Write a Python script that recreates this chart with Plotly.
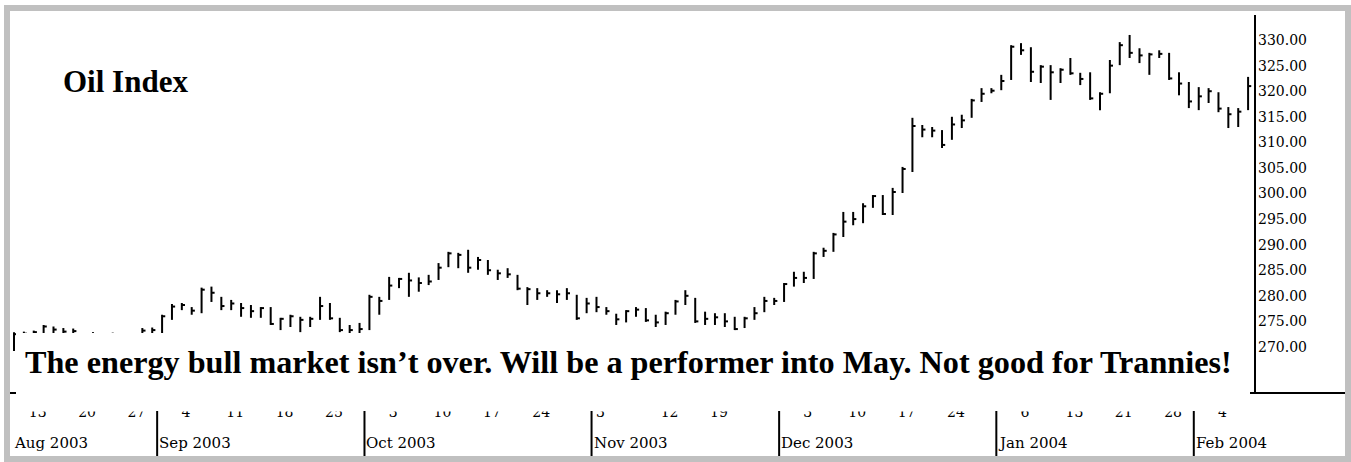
import pandas as pd
import plotly.graph_objects as go

# ---------------- data ----------------
holidays = ["2003-09-01", "2003-11-27", "2003-12-25", "2004-01-01", "2004-01-19"]
dates = [d for d in pd.bdate_range("2003-08-11", "2004-02-09")
         if d.strftime("%Y-%m-%d") not in holidays]

high = [272.9, 273.0, 273.2, 274.3, 274.0, 273.7, 273.6, 272.4, 272.9, 272.2,
        272.8, 272.3, 272.4, 273.7, 273.8, 276.3, 278.4, 278.6, 277.8, 281.6,
        281.8, 279.8, 279.2, 278.6, 278.2, 277.8, 277.8, 275.7, 276.3, 275.9,
        275.9, 279.8, 278.6, 275.7, 274.3, 274.7, 280.2, 279.8, 283.7, 283.5,
        284.5, 283.6, 284.1, 286.4, 288.6, 288.4, 289.0, 287.6, 287.0, 285.1,
        285.4, 284.1, 281.7, 281.5, 281.1, 281.1, 281.5, 280.2, 279.6, 279.8,
        277.8, 276.5, 277.2, 277.8, 277.6, 276.3, 276.9, 279.2, 281.1, 279.6,
        276.9, 276.6, 276.6, 275.9, 275.9, 277.8, 279.8, 279.6, 282.5, 284.7,
        284.7, 288.6, 289.4, 292.3, 296.4, 296.4, 298.1, 299.7, 299.7, 301.1,
        305.2, 314.8, 313.4, 313.0, 312.4, 315.0, 315.4, 318.5, 320.6, 320.6,
        323.2, 329.0, 329.4, 328.6, 325.1, 325.1, 324.5, 326.5, 323.6, 323.7,
        319.8, 326.1, 329.6, 331.0, 328.4, 327.5, 328.0, 327.5, 323.7, 321.8,
        320.8, 320.6, 319.8, 316.9, 316.7, 322.8]
low = [269.2, 270.5, 270.8, 271.5, 271.6, 271.3, 271.0, 269.8, 270.0, 268.9,
       269.3, 269.6, 270.2, 271.3, 271.8, 272.2, 275.3, 277.2, 276.3, 276.6,
       278.8, 277.2, 277.2, 275.9, 275.7, 275.7, 274.3, 273.3, 273.9, 272.9,
       273.9, 275.3, 275.3, 272.9, 272.0, 272.2, 273.3, 276.3, 279.2, 281.5,
       279.8, 280.8, 282.1, 283.1, 285.6, 285.4, 284.5, 285.1, 284.1, 283.1,
       283.5, 281.1, 278.2, 279.2, 279.8, 278.6, 279.2, 275.3, 276.6, 276.8,
       276.3, 274.3, 274.8, 275.9, 274.9, 273.9, 274.3, 276.3, 278.2, 274.7,
       274.3, 274.3, 273.9, 273.3, 273.7, 275.3, 276.8, 278.2, 278.8, 281.8,
       282.5, 283.3, 287.6, 288.6, 291.5, 293.8, 294.2, 297.2, 295.8, 295.8,
       300.1, 304.2, 311.0, 311.0, 308.9, 310.5, 312.8, 314.8, 317.9, 319.6,
       320.2, 322.2, 327.1, 321.8, 321.6, 318.3, 321.6, 323.2, 321.2, 318.3,
       316.3, 319.6, 325.1, 326.5, 325.5, 323.2, 326.5, 322.2, 319.2, 316.7,
       316.3, 317.7, 315.9, 312.8, 313.0, 316.3]
close = [272.5, 272.6, 272.9, 274.0, 273.4, 273.0, 273.1, 270.6, 272.3, 269.6,
         272.0, 270.8, 271.9, 273.2, 273.3, 276.0, 277.9, 278.2, 277.1, 281.2,
         280.6, 278.0, 278.5, 277.6, 277.0, 277.6, 274.5, 275.5, 276.0, 275.3,
         275.5, 278.0, 275.6, 273.3, 273.3, 273.5, 279.8, 279.0, 282.0, 283.3,
         283.0, 282.5, 282.8, 285.5, 288.3, 288.0, 285.5, 287.0, 285.0, 284.4,
         284.2, 281.4, 281.3, 280.5, 280.5, 280.3, 280.5, 275.6, 278.5, 277.8,
         277.0, 275.4, 277.0, 277.3, 275.2, 274.8, 276.6, 278.9, 280.0, 275.0,
         275.5, 275.8, 275.0, 273.5, 275.6, 276.6, 279.0, 279.0, 282.3, 283.5,
         283.5, 288.3, 288.8, 292.0, 294.5, 295.0, 297.5, 299.5, 296.0, 300.3,
         304.8, 313.2, 312.5, 312.3, 309.5, 313.5, 314.3, 318.2, 319.5, 320.1,
         322.0, 328.7, 328.0, 323.8, 324.8, 323.7, 324.2, 323.5, 322.4, 318.6,
         319.5, 325.0, 329.0, 327.5, 327.0, 327.2, 327.3, 322.5, 321.5, 318.0,
         319.0, 320.0, 316.6, 315.5, 316.0, 321.0]

tick_dates = ["2003-08-13", "2003-08-20", "2003-08-27", "2003-09-04", "2003-09-11",
              "2003-09-18", "2003-09-25", "2003-10-03", "2003-10-10", "2003-10-17",
              "2003-10-24", "2003-11-03", "2003-11-12", "2003-11-19", "2003-12-03",
              "2003-12-10", "2003-12-17", "2003-12-24", "2004-01-06", "2004-01-13",
              "2004-01-21", "2004-01-28", "2004-02-04"]
y_ticks = [270, 275, 280, 285, 290, 295, 300, 305, 310, 315, 320, 325, 330]
month_labels = ["Aug 2003", "Sep 2003", "Oct 2003", "Nov 2003", "Dec 2003", "Jan 2004", "Feb 2004"]
title_text = "Oil Index"
note_text = "The energy bull market isn\u2019t over. Will be a performer into May. Not good for Trannies!"

assert len(dates) == len(high) == len(low) == len(close)

# ---------------- build ----------------
date_idx = {d.strftime("%Y-%m-%d"): i for i, d in enumerate(dates)}
TICK = 0.32
xs, ys = [], []
for i, (h, l, c) in enumerate(zip(high, low, close)):
    xs += [i, i, None, i, i + TICK, None]
    ys += [l, h, None, c, c, None]

fig = go.Figure()
fig.add_trace(go.Scatter(x=xs, y=ys, mode="lines",
                         line=dict(color="black", width=2),
                         hoverinfo="skip", showlegend=False))

W, H = 1351, 462
L, R, T, B = 10, 1255, 15, 393     # plot area in pixels
pw, ph = R - L, B - T

def px(xp):  # pixel -> paper x
    return (xp - L) / pw

def py(yp):  # pixel -> paper y
    return (B - yp) / ph

SERIF = "DejaVu Serif"
BOLD = "Liberation Serif"

shapes = []
# bottom axis line (runs under label column too)
shapes.append(dict(type="line", xref="paper", yref="paper", x0=px(L), x1=px(1347),
                   y0=0, y1=0, line=dict(color="black", width=2), layer="above"))
# right axis line
shapes.append(dict(type="line", xref="paper", yref="paper", x0=1, x1=1,
                   y0=0, y1=1, line=dict(color="black", width=2), layer="above"))
# white box behind the comment text
shapes.append(dict(type="rect", xref="paper", yref="paper", x0=px(16), x1=px(1250),
                   y0=py(399), y1=py(333), fillcolor="white", line=dict(width=0), layer="above"))
# clip of the day labels' top
shapes.append(dict(type="rect", xref="paper", yref="paper", x0=px(L), x1=px(1345),
                   y0=py(411.5), y1=py(398), fillcolor="white", line=dict(width=0), layer="above"))

annotations = []
# month separators and labels
months = [(d.year, d.month) for d in dates]
first_idx = [months.index(m) for m in dict.fromkeys(months)]
for k, fi in enumerate(first_idx):
    xsep = fi - 0.5
    if k > 0:
        shapes.append(dict(type="line", xref="x", yref="paper", x0=xsep, x1=xsep,
                           y0=py(457), y1=py(411), line=dict(color="black", width=2)))
        annotations.append(dict(x=xsep, y=py(443), xref="x", yref="paper",
                                text=month_labels[k], showarrow=False, xanchor="left",
                                yanchor="middle", xshift=0,
                                font=dict(family=SERIF, size=15, color="black")))
    else:
        annotations.append(dict(x=px(12), y=py(443), xref="paper", yref="paper",
                                text=month_labels[k], showarrow=False, xanchor="left",
                                yanchor="middle",
                                font=dict(family=SERIF, size=15, color="black")))

annotations.append(dict(x=px(61), y=py(82), xref="paper", yref="paper", text="<b>" + title_text + "</b>",
                        showarrow=False, xanchor="left", yanchor="middle",
                        font=dict(family=BOLD, size=31, color="black")))
annotations.append(dict(x=px(628), y=py(362), xref="paper", yref="paper", text="<b>" + note_text + "</b>",
                        showarrow=False, xanchor="center", yanchor="middle",
                        font=dict(family=BOLD, size=32.2, color="black")))

# outer grey frame
shapes.append(dict(type="rect", xref="paper", yref="paper", x0=px(7), x1=px(1348),
                   y0=py(459), y1=py(8), line=dict(color="#C0C0C0", width=6),
                   fillcolor="rgba(0,0,0,0)", layer="above"))

fig.update_layout(
    width=W, height=H,
    margin=dict(l=L, r=W - R, t=T, b=H - B, pad=0),
    paper_bgcolor="white", plot_bgcolor="white",
    shapes=shapes, annotations=annotations,
    xaxis=dict(range=[-0.405, 125.7], showgrid=False, zeroline=False, showline=False,
               tickmode="array", tickvals=[date_idx[d] for d in tick_dates],
               ticktext=[str(int(d[-2:])) for d in tick_dates], ticks="",
               ticklabelstandoff=9, ticklabelshift=4, fixedrange=True,
               tickfont=dict(family=SERIF, size=14, color="black")),
    yaxis=dict(range=[261.0, 334.9], side="right", showgrid=False, zeroline=False,
               showline=False, tickmode="array", tickvals=y_ticks,
               ticktext=["%.2f" % v for v in y_ticks], ticks="", ticklabelstandoff=2,
               fixedrange=True,
               tickfont=dict(family=SERIF, size=14, color="black")),
)

fig.write_html("out.html",
               config={"displayModeBar": False, "staticPlot": True},
               post_script="document.body.style.margin='0';document.body.style.padding='0';")
